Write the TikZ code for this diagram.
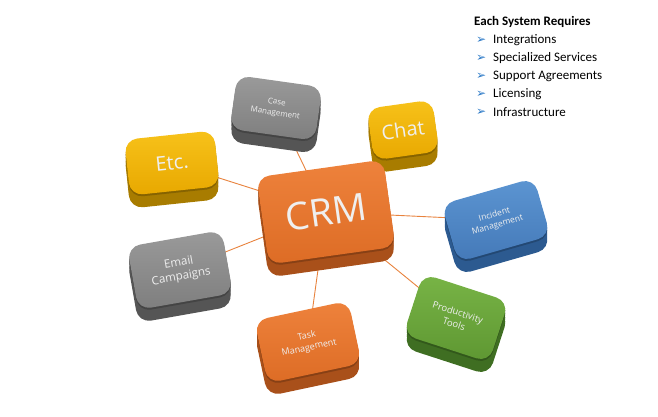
\documentclass[tikz,border=0pt]{standalone}
\usepackage{fontspec}
\setmainfont{Carlito}
\newfontfamily\symfont{DejaVu Sans}
\newfontfamily\boxfont{Open Sans}
\usetikzlibrary{shadows,backgrounds}
\definecolor{orT}{HTML}{EE823C}\definecolor{orB}{HTML}{DD6C25}\definecolor{orS}{HTML}{A9501A}
\definecolor{grT}{HTML}{9A9A9A}\definecolor{grB}{HTML}{7E7E7E}\definecolor{grS}{HTML}{555555}
\definecolor{yeT}{HTML}{F7C21A}\definecolor{yeB}{HTML}{E8A800}\definecolor{yeS}{HTML}{A87C00}
\definecolor{blT}{HTML}{5C95D2}\definecolor{blB}{HTML}{4479B8}\definecolor{blS}{HTML}{2C5A90}
\definecolor{gnT}{HTML}{78B446}\definecolor{gnB}{HTML}{5E9732}\definecolor{gnS}{HTML}{3F6E22}
\definecolor{linkc}{HTML}{E8833E}
\definecolor{bulc}{HTML}{2A78C6}
\definecolor{labc}{HTML}{EFEFEF}
\tikzset{
  tile/.style n args={3}{draw=none, rounded corners=13pt, inner sep=2pt, align=center,
    top color=#1, bottom color=#2, text=labc,
    general shadow={fill=#3, shadow yshift=-13pt},
    general shadow={fill=#3, shadow yshift=-9pt},
    general shadow={fill=#3, shadow yshift=-5pt},
    general shadow={fill=#3!80!black, shadow yshift=-2pt}},
  link/.style={draw=linkc, line width=0.9pt},
  listitem/.style={anchor=west, inner sep=0pt, font=\fontsize{13}{15}\selectfont},
  bul/.style={anchor=west, inner sep=0pt, text=bulc, font=\symfont\fontsize{12}{14}\selectfont}
}
\begin{document}
\begin{tikzpicture}[x=1pt,y=-1pt]
\useasboundingbox (0,0) rectangle (658,416);
% tiles
\node[tile={grT}{grB}{grS}, minimum width=86pt, minimum height=54pt, rotate=-8,
  font=\boxfont\fontsize{8}{11}\selectfont] (case) at (276,108) {Case\\Management};
\node[tile={yeT}{yeB}{yeS}, minimum width=66pt, minimum height=52pt, rotate=8,
  font=\boxfont\fontsize{20}{22}\selectfont] (chat) at (403,130) {Chat};
\node[tile={yeT}{yeB}{yeS}, minimum width=90pt, minimum height=56pt, rotate=6,
  font=\boxfont\fontsize{20}{22}\selectfont] (etc) at (172,163) {Etc.};
\node[tile={orT}{orB}{orS}, minimum width=128pt, minimum height=88pt, rotate=8,
  font=\boxfont\fontsize{38}{40}\selectfont] (crm) at (326,212) {CRM};
\node[tile={blT}{blB}{blS}, minimum width=96pt, minimum height=60pt, rotate=16,
  font=\boxfont\fontsize{8.5}{11}\selectfont] (inc) at (496,220) {Incident\\Management};
\node[tile={grT}{grB}{grS}, minimum width=96pt, minimum height=64pt, rotate=10,
  font=\boxfont\fontsize{11.5}{14}\selectfont] (email) at (180,270) {Email\\Campaigns};
\node[tile={gnT}{gnB}{gnS}, minimum width=90pt, minimum height=64pt, rotate=-18,
  font=\boxfont\fontsize{9.5}{12.5}\selectfont] (prod) at (456,318) {Productivity\\Tools};
\node[tile={orT}{orB}{orS}, minimum width=96pt, minimum height=64pt, rotate=12,
  font=\boxfont\fontsize{9}{12}\selectfont] (task) at (308,342) {Task\\Management};
% connectors
\begin{scope}[on background layer]
\foreach \t in {case,chat,etc,inc,email,prod,task}
  \draw[link] (crm.center) -- (\t.center);
\end{scope}
% requirements list
\node[anchor=west, inner sep=0pt, font=\bfseries\fontsize{13}{15}\selectfont] (title) at (474,22) {Each System Requires};
\foreach \y/\txt/\nm in {40/Integrations/i1, 58/Specialized Services/i2, 76/Support Agreements/i3, 94/Licensing/i4, 112/Infrastructure/i5}{
  \node[bul] (b\nm) at (476,\y) {➢};
  \node[listitem] (\nm) at (493,\y) {\txt};
}
\end{tikzpicture}
\end{document}
